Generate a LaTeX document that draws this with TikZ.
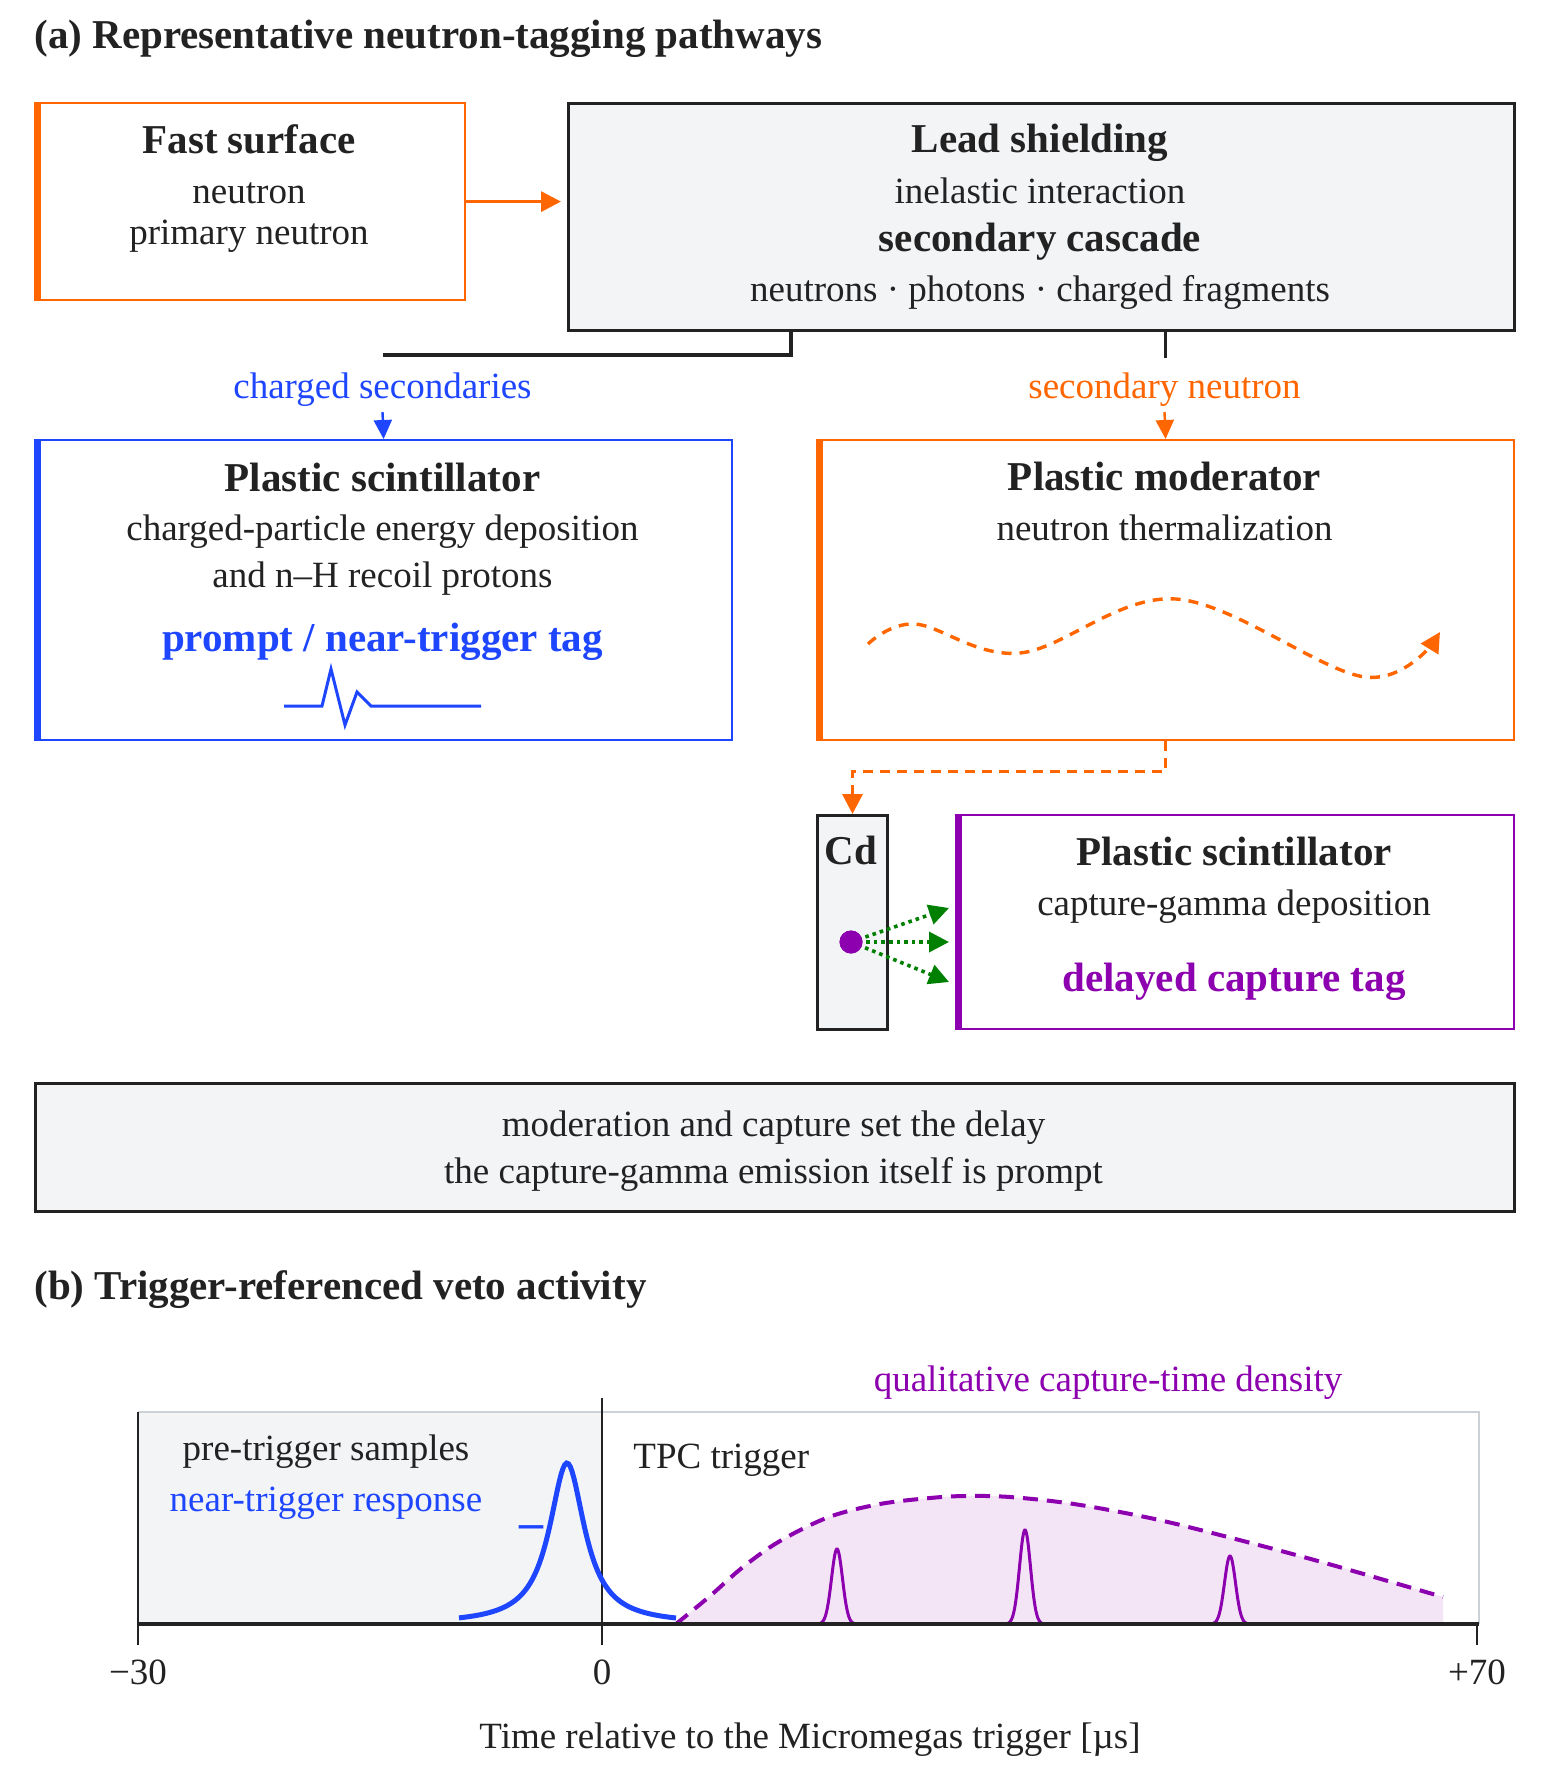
\documentclass[tikz,border=0pt]{standalone}
\usepackage{fontspec}
\setmainfont{Liberation Serif}
\usetikzlibrary{arrows.meta,calc}
\definecolor{ink}{RGB}{34,34,34}
\definecolor{oran}{RGB}{255,102,0}
\definecolor{blu}{RGB}{30,70,255}
\definecolor{purp}{RGB}{140,0,175}
\definecolor{grn}{RGB}{0,128,0}
\definecolor{grayfill}{RGB}{243,244,246}
\definecolor{purpfill}{RGB}{243,229,246}
\definecolor{framegray}{RGB}{205,210,214}
\tikzset{
  body/.style={font=\fontsize{18.5}{22}\selectfont, text=ink, inner sep=0pt},
  head/.style={font=\fontsize{20.5}{24}\selectfont\bfseries, text=ink, inner sep=0pt},
  boxbase/.style={draw, line width=1.1pt, inner sep=0pt, anchor=north west},
  darkbox/.style={boxbase, draw=ink, line width=1.5pt, fill=grayfill},
  tip/.style={-{Triangle[length=10pt,width=10pt]}},
  smalltip/.style={-{Triangle[length=9.5pt,width=9pt]}},
  gtip/.style={-{Triangle[length=10pt,width=10pt]}},
}
\begin{document}
\begin{tikzpicture}[x=0.5pt,y=-0.5pt]
\useasboundingbox[fill=white] (0,0) rectangle (1547,1779);

% titles
\node[head, anchor=west] (ta) at (34,38.5) {(a) Representative neutron-tagging pathways};
\node[head, anchor=west] (tb) at (34,1290) {(b) Trigger-referenced veto activity};

% boxes
\node[boxbase, draw=oran, minimum width=215pt, minimum height=98.5pt] (fast) at (34,102) {};
\node[darkbox, minimum width=473pt, minimum height=113.5pt] (lead) at (567,102) {};
\node[boxbase, draw=blu, minimum width=348.5pt, minimum height=150pt] (plast) at (34,439) {};
\node[boxbase, draw=oran, minimum width=348.5pt, minimum height=150pt] (moder) at (816,439) {};
\node[darkbox, minimum width=35pt, minimum height=107pt] (cd) at (816,814) {};
\node[boxbase, draw=purp, minimum width=279pt, minimum height=107pt] (capt) at (955,814) {};
\node[darkbox, minimum width=739.5pt, minimum height=64pt] (note) at (34,1082) {};

% thick left bars
\draw[oran, line width=3.5pt] ([xshift=1.75pt]fast.north west) -- ([xshift=1.75pt]fast.south west);
\draw[blu, line width=3.5pt] ([xshift=1.75pt]plast.north west) -- ([xshift=1.75pt]plast.south west);
\draw[oran, line width=3.5pt] ([xshift=1.75pt]moder.north west) -- ([xshift=1.75pt]moder.south west);
\draw[purp, line width=3.5pt] ([xshift=1.75pt]capt.north west) -- ([xshift=1.75pt]capt.south west);

% box texts
\node[head] (fastT) at (249,139.5) {Fast surface};
\node[body] (fastA) at (249,193.5) {neutron};
\node[body] (fastB) at (249,236.5) {primary neutron};

\node[head] (leadT) at (1040,143) {Lead shielding};
\node[body] (leadA) at (1040,191) {inelastic interaction};
\node[head] (leadB) at (1040,242) {secondary cascade};
\node[body] (leadC) at (1040,292) {neutrons · photons · charged fragments};

\node[head] (plT) at (382.5,477) {Plastic scintillator};
\node[body] (plA) at (382.5,531.5) {charged-particle energy deposition};
\node[body] (plB) at (382.5,578.5) {and n–H recoil protons};
\node[head, text=blu] (plC) at (382.5,641.5) {prompt / near-trigger tag};

\node[head] (moT) at (1164.5,476.5) {Plastic moderator};
\node[body] (moA) at (1164.5,528) {neutron thermalization};

\node[head] (cdT) at (851,850) {Cd};
\node[head] (caT) at (1234,851) {Plastic scintillator};
\node[body] (caA) at (1234,906.5) {capture-gamma deposition};
\node[head, text=purp] (caB) at (1234,981.5) {delayed capture tag};

\node[body] (noA) at (773.5,1127.5) {moderation and capture set the delay};
\node[body] (noB) at (773.5,1174) {the capture-gamma emission itself is prompt};

% connectors
\draw[oran, line width=1.6pt, tip, shorten >=3pt] (fast.east) -- (fast.east -| lead.west);

\coordinate (lbend) at (791,355);
\coordinate (lend) at (382.5,355);
\draw[ink, line width=1.7pt] (lbend |- lead.south) -- (lbend) -- (lend);
\draw[ink, line width=1.3pt] (lead.south -| moder.north) -- ++(0,26);

\node[body, text=blu] (lbC) at (382.5,390) {charged secondaries};
\node[body, text=oran] (lbN) at (1164.5,390) {secondary neutron};
\coordinate (aC) at (382.5,412);
\coordinate (aN) at (1164.5,412);
\draw[blu, line width=1.2pt, smalltip] (aC) -- (plast.north);
\draw[oran, line width=1.2pt, smalltip] (aN) -- (moder.north);

\draw[oran, line width=1.6pt, dash pattern=on 5pt off 3.5pt, tip]
  (moder.south) -- ++(0,30) -| (cd.north);

% neutron wandering path
\draw[oran, line width=1.7pt, dash pattern=on 5pt off 4pt, tip]
  plot[smooth, tension=0.6] coordinates {(868,644) (915,624) (1020,653) (1176,599) (1365,677) (1440,632)};

% pulse in blue box
\draw[blu, line width=1.5pt] (284,706) -- (322,706) -- (331,669) -- (345,725) -- (357,692) -- (371,706) -- (481,706);

% capture dot and gammas
\node[circle, fill=purp, minimum size=11.5pt, inner sep=0pt] (dot) at (851,942) {};
\coordinate (g1) at (949,908);
\coordinate (g2) at (949,942);
\coordinate (g3) at (949,982);
\draw[grn, line width=1.8pt, dotted, gtip] (dot.center) -- (g1);
\draw[grn, line width=1.8pt, dotted, gtip] (dot.center) -- (g2);
\draw[grn, line width=1.8pt, dotted, gtip] (dot.center) -- (g3);
\fill[purp] (dot) circle (5.75pt);

% ---------- plot (b) ----------
\fill[grayfill] (138,1412) rectangle (602,1624);
\draw[framegray, line width=1.1pt] (138,1412) -- (1479,1412) -- (1479,1624);
\def\envpts{(676,1624) (710,1596) (743,1567) (780,1541) (829,1517) (880,1504) (930,1498) (965,1496) (1010,1497) (1074,1504) (1150,1518) (1220,1535) (1318,1561) (1443,1597)}
\fill[purpfill] plot[smooth, tension=0.55] coordinates {\envpts} -- (1443,1624) -- cycle;
\foreach \c/\h in {837/75, 1025/94, 1230/68}{
  \draw[purp, line width=1.5pt] plot[domain=-17:17, samples=50] ({\c+\x},{1624-\h*exp(-(\x/5.5)^2/2)});
}
\draw[purp, line width=2pt, dash pattern=on 7.5pt off 4.5pt]
  plot[smooth, tension=0.55] coordinates {\envpts};

\draw[ink, line width=1.3pt] (138,1412) -- (138,1645);
\draw[ink, line width=1.7pt] (138,1624) -- (1479,1624);
\draw[ink, line width=1.3pt] (602,1398) -- (602,1645);
\draw[ink, line width=1.3pt] (1477,1624) -- (1477,1645);

\draw[blu, line width=2.5pt] plot[domain=459:676, samples=120] (\x,{1624-161/(1+((\x-567)/21.5)^2)});

\node[body] (pre) at (326,1451.5) {pre-trigger samples};
\node[body, text=blu] (near) at (326,1503) {near-trigger response};
\node[font=\fontsize{24}{26}\selectfont\bfseries, text=blu, inner sep=0pt] (dash) at (531,1532) {–};
\node[body, anchor=west] (tpc) at (633,1460.5) {TPC trigger};
\node[body, text=purp] (qual) at (1108,1382.5) {qualitative capture-time density};

\node[body] (t1) at (138,1672.5) {−30};
\node[body] (t2) at (602,1672.5) {0};
\node[body] (t3) at (1477,1672.5) {+70};
\node[body] (xl) at (810,1740) {Time relative to the Micromegas trigger [µs]};
\end{tikzpicture}
\end{document}
